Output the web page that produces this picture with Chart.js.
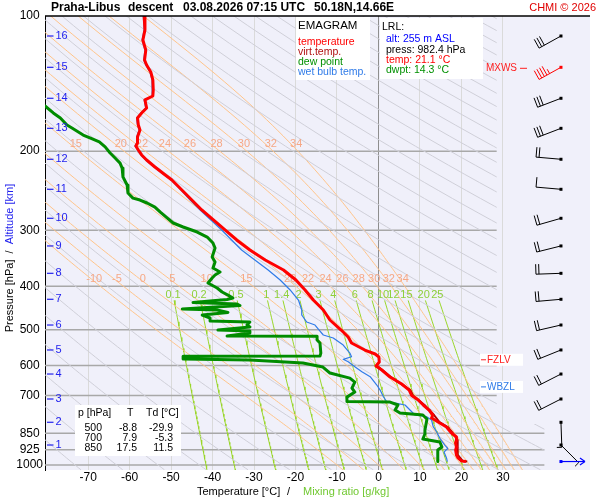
<!DOCTYPE html>
<html>
<head>
<meta charset="utf-8">
<script src="https://cdn.jsdelivr.net/npm/chart.js@4.4.1/dist/chart.umd.min.js"></script>
<style>
  body { margin: 0; background: #fff; }
  #wrap { width: 600px; height: 500px; }
</style>
</head>
<body>
<div id="wrap"><canvas id="emagram" width="600" height="500"></canvas></div>
<script>
// ---- values ----
const pressureTicks = [100, 200, 300, 400, 500, 600, 700, 850, 925, 1000];
const isobarLevels = [200, 300, 400, 500, 600, 700, 850, 925, 1000];
const temperatureTicks = [-70, -60, -50, -40, -30, -20, -10, 0, 10, 20, 30];

// [pressure hPa, temperature °C]
const temperature = [
  [100,-56.5],[107.4,-56.3],[113.1,-56.8],[119.1,-56.1],[125.3,-56.4],[128.6,-55.9],[133.2,-54.9],
  [138.8,-54.4],[146.2,-54.3],[150.7,-54.4],[153.8,-56.3],[160.3,-55.9],[164.5,-57.1],[168.7,-58.1],
  [174.9,-57.9],[179.5,-57.5],[186,-58.1],[191.9,-58.1],[194.8,-58.5],[198.8,-57.9],[203.9,-57.1],
  [209.3,-55.9],[216.9,-53.9],[226,-51.4],[231.9,-49.8],[244.1,-47.4],[256.9,-45.0],[270.4,-42.6],
  [284.6,-39.8],[299.6,-37.0],[315.4,-34.2],[332,-31.0],[349.5,-27.3],[367.9,-22.9],[387.3,-19.9],
  [407.6,-17.7],[429.1,-15.7],[451.6,-13.3],[475.4,-11.7],[500.5,-9.0],[518.8,-7.3],[535,-6.5],
  [554.6,-3.3],[566,-0.8],[574.8,0.1],[589.7,0.2],[602,-0.6],[614.4,0.8],[637,2.8],[660.2,5.6],
  [680.9,7.4],[700,8.0],[716.6,9.6],[735.2,10.8],[754.3,12.2],[773.9,13.1],[785.9,12.8],[802.1,14.4],
  [823,16.4],[848.7,17.6],[866.3,18.8],[879.8,18.8],[893.4,18.6],[911.9,18.8],[926.1,18.6],[950,18.8],
  [964.7,19.2],[979.7,20.0],[982.4,21.1]
];
const virtualTemp = [
  [600,-0.5],[637,3.0],[680.9,7.7],[700,8.3],[735.2,11.1],[773.9,13.4],[802.1,14.7],[823,16.7],
  [848.7,17.9],[879.8,19.1],[911.9,19.1],[950,19.1],[979.7,20.3],[982.4,21.4]
];
const dewPoint = [
  [155,-82],[158.6,-80.4],[164.4,-78.4],[168.7,-76.7],[174.9,-75.1],[177.6,-73.9],[184.1,-71.2],
  [187.9,-69.0],[190.8,-67.3],[195.7,-65.9],[201.9,-64.7],[207.2,-63.5],[212.6,-62.3],[218.1,-61.8],
  [228.4,-61.6],[237.9,-60.6],[247.9,-60.4],[254.4,-59.2],[257,-57.5],[260.9,-55.8],[266.4,-53.9],
  [273.3,-52.6],[281.8,-50.9],[289.1,-49.5],[295.1,-47.1],[302.8,-43.7],[310.7,-41.3],[320.4,-39.9],
  [328.7,-39.4],[344.2,-40.1],[353.2,-39.4],[364.2,-39.9],[371.7,-38.2],[377.5,-39.4],[383.3,-40.1],
  [393.3,-41.1],[403.5,-38.9],[411.9,-37.7],[418.3,-36.3],[424.8,-35.1],[428,-36.5],[434.7,-44.7],
  [438,-34.1],[441.4,-33.4],[449.4,-47.3],[451.7,-38.9],[457.5,-36.3],[463.4,-42.5],[470.6,-40.6],
  [477.9,-40.6],[480.3,-31.0],[487.8,-31.7],[492.8,-31.0],[500.4,-38.7],[503,-31.0],[508.2,-31.0],
  [516.1,-36.5],[516.5,-14.8],[526.7,-14.8],[535,-14.1],[563.2,-13.9],[571.9,-14.1],[572.3,-47.1],
  [580.8,-47.1],[583.8,-31.0],[592.9,-18.2],[605.1,-13.4],[624.1,-11.7],[640.4,-6.9],[653.6,-5.7],
  [674.1,-6.4],[688.1,-5.7],[706,-7.6],[722.4,-7.6],[724.3,2.8],[735.2,4.7],[754.3,4.0],[766.1,5.2],
  [773.9,10.7],[790,11.7],[835.6,11.2],[853.1,11.2],[875.1,10.7],[888.7,14.8],[912,15.3],[926.3,14.3],
  [960,14.3],[982.4,14.3]
];
const wetBulb = [
  [100,-56.7],[107.4,-56.5],[113.1,-57.0],[119.1,-56.3],[125.3,-56.6],[128.6,-56.1],[133.2,-55.1],
  [138.8,-54.6],[146.2,-54.5],[150.7,-54.6],[153.8,-56.5],[160.3,-56.1],[164.5,-57.3],[168.7,-58.3],
  [174.9,-58.1],[179.5,-57.7],[186,-58.3],[191.9,-58.3],[194.8,-58.7],[198.8,-58.1],[203.9,-57.3],
  [209.3,-56.1],[216.9,-54.1],[226,-51.6],[231.9,-50.0],[244.1,-47.6],[256.9,-45.4],[270.4,-43.0],
  [284.6,-40.4],[299.6,-37.8],[315.4,-35.4],[332,-33.0],[349.5,-29.8],[367.9,-26.6],[387.3,-23.7],
  [407.6,-21.3],[429.1,-19.3],[451.6,-18.5],[463.4,-18.5],[480.4,-17.3],[487.9,-15.3],[500.5,-14.3],
  [513.4,-13.3],[521.4,-10.9],[540.5,-8.5],[563.2,-6.9],[573.9,-6.5],[581.6,-8.5],[588.8,-7.3],
  [604.1,-5.7],[619.8,-4.0],[636,-2.0],[663.6,-0.4],[680.9,0.4],[704.6,1.2],[722.9,2.0],[728.8,4.4],
  [735.2,6.4],[754.3,7.6],[773.9,8.8],[780.7,11.6],[793.9,12.8],[821.7,13.2],[843.1,14.0],[872.1,14.8],
  [902.7,16.0],[918.2,16.7],[935.8,15.8],[964.7,16.4],[982.4,16.6]
];

// altitude marks (km) and the wind at each of them
const altitudeKm = [1, 2, 3, 4, 5, 6, 7, 8, 9, 10, 11, 12, 13, 14, 15, 16];
const altitudeP = [902.6, 803.3, 712.9, 627.2, 554.4, 487.8, 427.5, 374.2, 325.2, 282.2, 243.2, 208.5, 177.9, 152.5, 130.1, 110.8];
const windDir = [135, 178, 243, 243, 248, 257, 265, 268, 256, 254, 275, 275, 249, 249, 241, 241];
const windKt = [5, 5, 20, 20, 20, 20, 20, 20, 20, 20, 10, 20, 30, 30, 45, 30];
const maxWindKm = 15;

// reference line families of the emagram
const moistAdiabats = [-10, -5, 0, 5, 10, 15, 20, 22, 24, 26, 28, 30, 32, 34];
const moistLabelsUpper = [15, 20, 22, 24, 26, 28, 30, 32, 34];
const mixingRatios = [0.1, 0.2, 0.5, 1, 1.4, 2, 3, 4, 6, 8, 10, 12, 15, 20, 25];
const dryThetaFrom = 200, dryThetaTo = 580, dryThetaStep = 10;

// small table and lowest-level box
const tableP = [500, 700, 850];
const tableT = [-8.8, 7.9, 17.5];
const tableTd = [-29.9, -5.3, 11.5];
const lrlAlt = 255, lrlPress = 982.4, lrlTemp = 21.1, lrlDwpt = 14.3;
const freezingLevelP = 583;
const wetBulbZeroP = 670;

// ---- layout constants ----
const FONT = 'Arial, "Liberation Sans", sans-serif';
const BLUE = '#2222ee';
const upperTmax = 28.5, lowerTmax = 40, stepP = 810;
const barbColumnT = 44;

// helpers for the reference curves
function satVap(t) { return 6.112 * Math.exp(17.67 * t / (t + 243.5)); }
function satMix(t, p) { const e = satVap(t); return 0.622 * e / (p - e); }
function moistLapse(t, p) {
  const tk = t + 273.15, r = satMix(t, p);
  const L = 2.501e6, Rd = 287.04, cp = 1005.7;
  return (Rd * tk + L * r) / (p * (cp + L * L * r * 0.622 / (Rd * tk * tk)));
}
function moistLine(thw) {
  const step = (t, p, dp) => {
    const k1 = moistLapse(t, p);
    const k2 = moistLapse(t + k1 * dp / 2, p + dp / 2);
    const k3 = moistLapse(t + k2 * dp / 2, p + dp / 2);
    const k4 = moistLapse(t + k3 * dp, p + dp);
    return t + dp * (k1 + 2 * k2 + 2 * k3 + k4) / 6;
  };
  const up = [{ x: thw, y: 1000 }];
  let t = thw, p = 1000;
  while (p > 95) { t = step(t, p, -5); p -= 5; up.push({ x: t, y: p }); }
  const down = [];
  t = thw; p = 1000;
  while (p < 1030) { t = step(t, p, 5); p += 5; down.push({ x: t, y: p }); }
  return down.reverse().concat(up);
}
function dryLine(theta) {
  const pts = [];
  for (let p = 95; p <= 1030; p += 10) pts.push({ x: theta * Math.pow(p / 1000, 0.2857) - 273.15, y: p });
  return pts;
}
function mixTemp(w, p) {
  const g = Math.log(w * p / (622 + w) / 6.112);
  return 243.5 * g / (17.67 - g);
}
function mixLine(w) {
  const pts = [];
  for (let p = 430; p <= 1030; p += 10) pts.push({ x: mixTemp(w, p), y: p });
  return pts;
}
function valueAt(pts, p) {
  let best = pts[0];
  pts.forEach(q => { if (Math.abs(q.y - p) < Math.abs(best.y - p)) best = q; });
  return best.x;
}
const series = pairs => pairs.map(([p, t]) => ({ x: t, y: p }));

const datasets = [];
const bgLine = (data, color, width) => datasets.push({
  kind: 'bg', clipStep: true, data, borderColor: color, borderWidth: width,
  showLine: true, pointRadius: 0, order: 20, clip: 0
});
for (let th = dryThetaFrom; th <= dryThetaTo; th += dryThetaStep) bgLine(dryLine(th), '#cfcfd8', 1);
const moistCurves = moistAdiabats.map(thw => moistLine(thw));
moistCurves.forEach(c => bgLine(c, '#ffc48a', 1));
const mixCurves = mixingRatios.map(w => mixLine(w));
mixCurves.forEach(c => bgLine(c, '#9ad62a', 1));
isobarLevels.forEach(p => bgLine([{ x: -90, y: p }, { x: 60, y: p }], '#a8a8a8', 1.5));

datasets.push(
  { label: 'virt.temp.', kind: 'vt', data: series(virtualTemp), borderColor: '#b00000', borderWidth: 2,
    showLine: true, pointRadius: 0, order: 3, clip: 0, borderJoinStyle: 'round' },
  { label: 'wet bulb temp.', data: series(wetBulb), borderColor: '#2f7be8', borderWidth: 1.2,
    showLine: true, pointRadius: 0, order: 2, clip: 0, borderJoinStyle: 'round' },
  { label: 'dew point', data: series(dewPoint), borderColor: '#008c00', borderWidth: 3,
    showLine: true, pointRadius: 0, order: 1, clip: 0, borderJoinStyle: 'round' },
  { label: 'temperature', data: series(temperature), borderColor: '#ff0000', borderWidth: 3,
    showLine: true, pointRadius: 0, order: 0, clip: 0, borderJoinStyle: 'round' }
);

function text(ctx, s, x, y, color, size, align, bold) {
  ctx.font = (bold ? 'bold ' : '') + size + 'px ' + FONT;
  ctx.fillStyle = color;
  ctx.textAlign = align || 'left';
  ctx.textBaseline = 'middle';
  ctx.fillText(s, x, y);
}
function seg(ctx, x1, y1, x2, y2, color, w) {
  ctx.strokeStyle = color; ctx.lineWidth = w || 1;
  ctx.beginPath(); ctx.moveTo(x1, y1); ctx.lineTo(x2, y2); ctx.stroke();
}
function drawBarb(ctx, x0, y0, dir, kt, color) {
  const a = dir * Math.PI / 180;
  const sx = Math.sin(a), sy = -Math.cos(a);
  const fx = -sy, fy = sx;
  const L = 25, fl = 10, gap = 3;
  const tx = x0 + sx * L, ty = y0 + sy * L;
  seg(ctx, x0, y0, tx, ty, color, 1);
  let left = kt, pos = 0;
  while (left >= 10) {
    const bx = tx - sx * pos, by = ty - sy * pos;
    seg(ctx, bx, by, bx + fx * fl, by + fy * fl, color, 1);
    left -= 10; pos += gap;
  }
  if (left >= 5) {
    const bx = tx - sx * pos, by = ty - sy * pos;
    seg(ctx, bx, by, bx + fx * fl / 2, by + fy * fl / 2, color, 1);
  }
  ctx.fillStyle = color;
  ctx.fillRect(x0 - 1.5, y0 - 1.5, 3, 3);
}

function drawLineLabels(chart) {
  const { ctx, scales: { x, y } } = chart;
  ctx.save();
  const pLow = 385, pHigh = 193, shift = 3;
  moistAdiabats.forEach((thw, i) => {
    text(ctx, String(thw), x.getPixelForValue(valueAt(moistCurves[i], pLow)) + shift, y.getPixelForValue(pLow), '#f6a886', 11, 'center');
    if (moistLabelsUpper.includes(thw))
      text(ctx, String(thw), x.getPixelForValue(valueAt(moistCurves[i], pHigh)) + shift, y.getPixelForValue(pHigh), '#f6a886', 11, 'center');
  });
  const pMix = 418;
  mixingRatios.forEach(w => {
    text(ctx, String(w), x.getPixelForValue(mixTemp(w, pMix)), y.getPixelForValue(pMix), '#8ed03a', 11, 'center');
  });
  ctx.restore();
}

const emagramPlugin = {
  id: 'emagram',
  beforeDraw(chart) {
    const { ctx, chartArea: a } = chart;
    ctx.save();
    ctx.fillStyle = '#f0f0fa';
    ctx.fillRect(a.left, a.top, a.right - a.left, a.bottom - a.top);
    ctx.restore();
  },
  beforeDatasetDraw(chart, args) {
    const ds = chart.data.datasets[args.index];
    if (ds.kind === 'vt') drawLineLabels(chart);
    if (!ds.clipStep) return;
    const { ctx, chartArea: a, scales: { x, y } } = chart;
    const xu = x.getPixelForValue(upperTmax), xl = x.getPixelForValue(lowerTmax), ys = y.getPixelForValue(stepP);
    ctx.save();
    ctx.beginPath();
    ctx.moveTo(a.left, a.top); ctx.lineTo(xu, a.top); ctx.lineTo(xu, ys);
    ctx.lineTo(xl, ys); ctx.lineTo(xl, a.bottom); ctx.lineTo(a.left, a.bottom);
    ctx.closePath();
    ctx.clip();
  },
  afterDatasetDraw(chart, args) {
    if (chart.data.datasets[args.index].clipStep) chart.ctx.restore();
  },
  afterDraw(chart) {
    const { ctx, chartArea: a, scales: { x, y } } = chart;
    ctx.save();
    seg(ctx, a.left, a.top, a.right, a.top, '#000', 1.5);

    // title line
    text(ctx, 'Praha-Libus', 51, 7.5, '#000', 12, 'left', true);
    text(ctx, 'descent', 128, 7.5, '#000', 12, 'left', true);
    text(ctx, '03.08.2026 07:15 UTC', 183, 7.5, '#000', 12, 'left', true);
    text(ctx, '50.18N,14.66E', 314, 7.5, '#000', 12, 'left', true);
    text(ctx, 'CHMI © 2026', 596, 7.5, '#e00000', 11, 'right');

    // axis titles
    text(ctx, 'Temperature [°C]', 197, 492, '#000', 11);
    text(ctx, '/', 287, 492, '#000', 11);
    text(ctx, 'Mixing ratio [g/kg]', 303, 492, '#70c830', 11);

    ctx.save();
    ctx.translate(10, 258);
    ctx.rotate(-Math.PI / 2);
    ctx.font = '11px ' + FONT;
    const s1 = 'Pressure [hPa]', s2 = '  /  ', s3 = 'Altitude [km]';
    const w1 = ctx.measureText(s1).width, w2 = ctx.measureText(s2).width, w3 = ctx.measureText(s3).width;
    let start = -(w1 + w2 + w3) / 2;
    text(ctx, s1, start, 0, '#000', 11); start += w1;
    text(ctx, s2, start, 0, '#000', 11); start += w2;
    text(ctx, s3, start, 0, BLUE, 11);
    ctx.restore();

    // altitude marks
    altitudeKm.forEach((km, i) => {
      const yy = y.getPixelForValue(altitudeP[i]);
      seg(ctx, 47, yy, 53.5, yy, BLUE, 1.2);
      text(ctx, String(km), 55.5, yy, BLUE, 11);
    });

    // legend box
    ctx.fillStyle = '#fff';
    ctx.fillRect(296, 17, 74, 63);
    text(ctx, 'EMAGRAM', 298, 26, '#000', 11.5);
    text(ctx, 'temperature', 298, 42, '#ff0000', 10.5);
    text(ctx, 'virt.temp.', 298, 52, '#b01010', 10.5);
    text(ctx, 'dew point', 298, 62, '#009000', 10.5);
    text(ctx, 'wet bulb temp.', 298, 72, '#2f7be8', 10.5);

    // lowest reported level box
    ctx.fillStyle = '#fff';
    ctx.fillRect(380, 18, 103, 61);
    text(ctx, 'LRL:', 382, 27, '#000', 10.5);
    text(ctx, 'alt: ' + lrlAlt + ' m ASL', 386, 39.5, '#0000ff', 10.5);
    text(ctx, 'press: ' + lrlPress.toFixed(1) + ' hPa', 386, 50, '#000', 10.5);
    text(ctx, 'temp: ' + lrlTemp.toFixed(1) + ' °C', 386, 60, '#ff0000', 10.5);
    text(ctx, 'dwpt: ' + lrlDwpt.toFixed(1) + ' °C', 386, 70, '#009000', 10.5);

    // table
    ctx.fillStyle = '#fff';
    ctx.fillRect(75, 405, 106, 51);
    text(ctx, 'p [hPa]', 78, 413.5, '#000', 10.5);
    text(ctx, 'T', 127, 413.5, '#000', 10.5);
    text(ctx, 'Td [°C]', 146, 413.5, '#000', 10.5);
    tableP.forEach((p, i) => {
      const yy = 428.5 + i * 10;
      text(ctx, String(p), 102, yy, '#000', 10.5, 'right');
      text(ctx, tableT[i].toFixed(1), 137, yy, '#000', 10.5, 'right');
      text(ctx, tableTd[i].toFixed(1), 173, yy, '#000', 10.5, 'right');
    });

    // freezing / wet-bulb-zero levels
    const yf = y.getPixelForValue(freezingLevelP), yw = y.getPixelForValue(wetBulbZeroP);
    ctx.fillStyle = '#fff';
    ctx.fillRect(480, yf - 6, 43, 12);
    ctx.fillRect(480, yw - 6, 43, 12);
    seg(ctx, 481, yf, 486, yf, '#ff2020', 1);
    text(ctx, 'FZLV', 487, yf, '#ff2020', 10);
    seg(ctx, 481, yw, 486, yw, '#2f7be8', 1);
    text(ctx, 'WBZL', 487, yw, '#2f7be8', 10);

    // wind barbs
    const bx = x.getPixelForValue(barbColumnT);
    altitudeKm.forEach((km, i) => {
      const yy = y.getPixelForValue(altitudeP[i]);
      drawBarb(ctx, bx, yy, windDir[i], windKt[i], km === maxWindKm ? '#ff0000' : '#000');
      if (km === maxWindKm) {
        text(ctx, 'MXWS', 517, yy + 1, '#ff2020', 10, 'right');
        seg(ctx, 520, yy + 1, 527, yy + 1, '#ff2020', 1);
      }
    });
    const ys = y.getPixelForValue(lrlPress);
    seg(ctx, bx, ys, bx + 24, ys, '#0000ff', 1.2);
    seg(ctx, bx + 19, ys - 3.5, bx + 24, ys, '#0000ff', 1.2);
    seg(ctx, bx + 19, ys + 3.5, bx + 24, ys, '#0000ff', 1.2);
    ctx.fillStyle = '#0000ff';
    ctx.fillRect(bx - 1.5, ys - 1.5, 3, 3);
    ctx.restore();
  }
};

new Chart(document.getElementById('emagram'), {
  type: 'scatter',
  data: { datasets },
  options: {
    responsive: false,
    animation: false,
    events: [],
    layout: { padding: { top: 16, right: 10, left: 0, bottom: 0 } },
    plugins: { legend: { display: false }, tooltip: { enabled: false } },
    elements: { line: { tension: 0, fill: false } },
    scales: {
      x: {
        type: 'linear', min: -80.4, max: 51,
        afterBuildTicks: s => { s.ticks = temperatureTicks.map(v => ({ value: v })); },
        afterFit: s => { s.height = 30; },
        grid: {
          drawTicks: false,
          color: c => (c.tick && c.tick.value === 0 ? '#8e8e8e' : '#dadada'),
          lineWidth: 1
        },
        border: { display: false },
        ticks: { padding: 0, autoSkip: false, maxRotation: 0, color: '#000',
          font: { family: FONT, size: 12 }, callback: v => String(v) }
      },
      y: {
        type: 'logarithmic', reverse: true, min: 100, max: 1026,
        afterBuildTicks: s => { s.ticks = pressureTicks.map(v => ({ value: v })); },
        afterFit: s => { s.width = 45; },
        grid: { display: false, drawTicks: false },
        border: { display: true, color: '#000', width: 1 },
        ticks: { padding: 2, crossAlign: 'center', autoSkip: false, color: '#000',
          font: { family: FONT, size: 12 }, callback: v => String(v) }
      }
    }
  },
  plugins: [emagramPlugin]
});
</script>
</body>
</html>
